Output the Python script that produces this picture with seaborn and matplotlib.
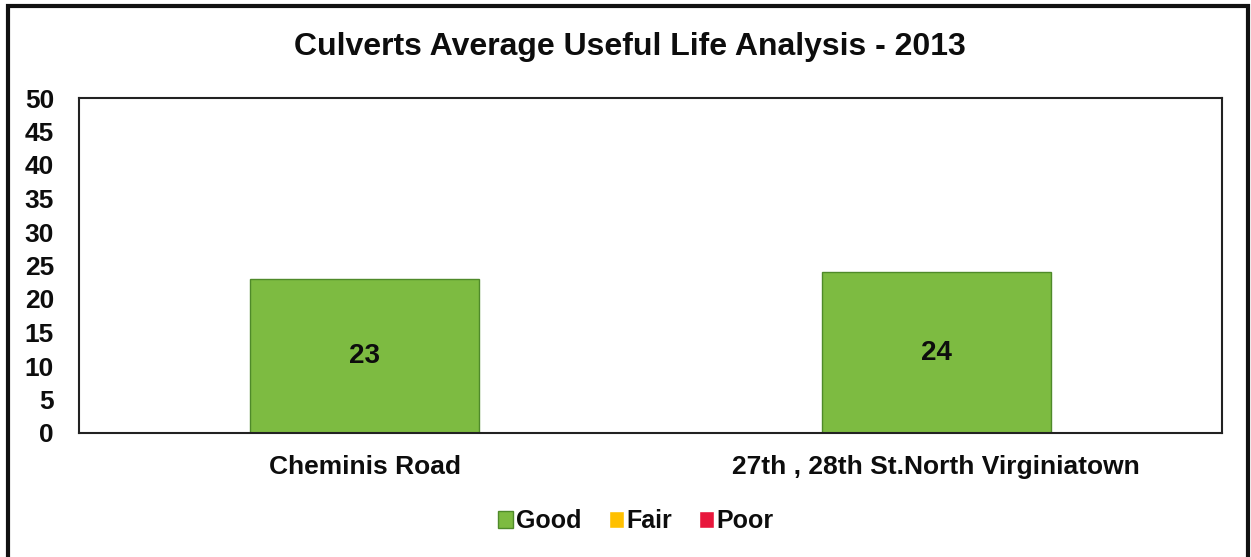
import numpy as np
import pandas as pd
import seaborn as sns
import matplotlib.pyplot as plt
from matplotlib.patches import Patch, Rectangle

# data
routes = ['Cheminis Road', '27th , 28th St.North Virginiatown']
good = [23, 24]
fair = [0, 0]
poor = [0, 0]
yticks = list(range(0, 55, 5))

sns.set_style('white')
plt.rcParams['font.family'] = ['Liberation Sans', 'DejaVu Sans']
plt.rcParams['font.weight'] = 'bold'
plt.rcParams['text.color'] = '#0d0d0d'
plt.rcParams['xtick.color'] = '#0d0d0d'
plt.rcParams['ytick.color'] = '#0d0d0d'

df = pd.DataFrame({'route': routes, 'Good': good, 'Fair': fair, 'Poor': poor})

fig = plt.figure(figsize=(12.51, 5.57), dpi=100)
ax = fig.add_axes([79 / 1251, 1 - 433 / 557, 1143 / 1251, 335 / 557])

sns.barplot(data=df, x='route', y='Good', color='#7dbb41', width=0.4,
            saturation=1, ax=ax, edgecolor='#4f8a2a', linewidth=1)
# Fair and Poor are empty stacks on top of Good
ax.bar(np.arange(len(routes)), df['Fair'], bottom=df['Good'], width=0.4,
       color='#ffc000', linewidth=0)
ax.bar(np.arange(len(routes)), df['Poor'], bottom=df['Good'] + df['Fair'], width=0.4,
       color='#e8173c', linewidth=0)

for i, v in enumerate(good):
    ax.text(i, v / 2, str(v), ha='center', va='center', fontsize=20,
            fontweight='bold')

ax.set_ylim(0, 50)
ax.set_xlim(-0.5, 1.5)
ax.set_yticks(yticks)
ax.set_yticklabels([str(t) for t in yticks], fontsize=19, fontweight='bold')
ax.tick_params(axis='y', length=0, pad=18)
ax.tick_params(axis='x', length=0, pad=16, labelsize=19)
for lab in ax.get_xticklabels():
    lab.set_fontweight('bold')
ax.set_xlabel('')
ax.set_ylabel('')
for s in ax.spines.values():
    s.set_visible(True)
    s.set_color('#222222')
    s.set_linewidth(1.5)

fig.text(630 / 1251, 1 - 47 / 557, 'Culverts Average Useful Life Analysis - 2013',
         ha='center', va='center', fontsize=23, fontweight='bold')

handles = [Patch(facecolor='#7dbb41', edgecolor='#4f8a2a', label='Good'),
           Patch(facecolor='#ffc000', label='Fair'),
           Patch(facecolor='#e8173c', label='Poor')]
fig.legend(handles=handles, loc='center', bbox_to_anchor=(636 / 1251, 1 - 521 / 557),
           ncol=3, frameon=False, handlelength=0.6, handleheight=0.7,
           handletextpad=0.1, columnspacing=1.1, prop={'weight': 'bold', 'size': 18})

# outer chart border
fig.patches.append(Rectangle((8 / 1251, -0.02), 1240 / 1251, 1 - 6 / 557 + 0.02,
                             transform=fig.transFigure, fill=False,
                             edgecolor='#111111', linewidth=3))

fig.savefig('out.png', dpi=100)
